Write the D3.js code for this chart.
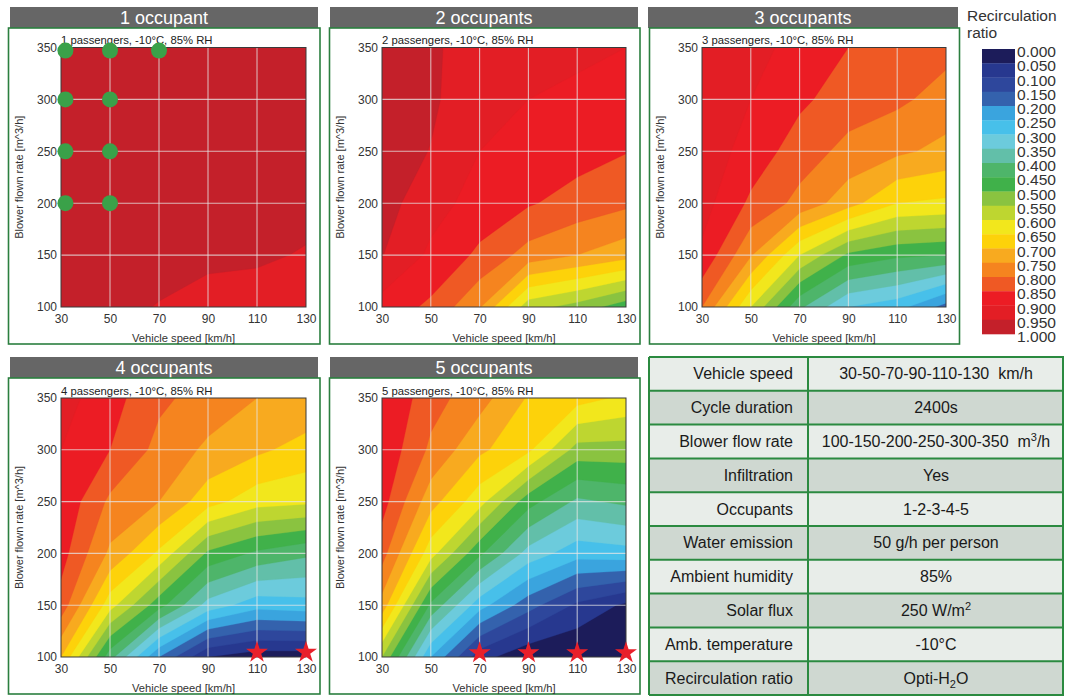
<!DOCTYPE html>
<html><head><meta charset="utf-8">
<script src="https://cdn.jsdelivr.net/npm/d3@7"></script>
<style>
body{margin:0;background:#fff;}
text{font-family:"Liberation Sans",Arial,sans-serif;}
</style>
</head><body>
<svg id="c" width="1065" height="696"></svg>
<script>
// ---------------- DATA ----------------
const speeds = [30, 50, 70, 90, 110, 130];          // km/h (columns)
const flows  = [100, 150, 200, 250, 300, 350];      // m3/h (rows, bottom -> top)
const thresholds = d3.range(20).map(i => i * 0.05);
const legendLabels = ["0.000","0.050","0.100","0.150","0.200","0.250","0.300","0.350","0.400","0.450",
  "0.500","0.550","0.600","0.650","0.700","0.750","0.800","0.850","0.900","0.950","1.000"];
const bandColors = ["#1c1c5a","#27388f","#2e479c","#3462ad","#3aa4de","#47c0ea","#6ccbdc","#62bfa9",
  "#4eb56a","#40b14a","#8ac340","#bed630","#f2e71c","#fdd20a","#f8aa1f","#f5841f","#ef5924","#ec1c24",
  "#e31e25","#c4202a"];

// recirculation ratio, rows = flows (100..350), columns = speeds (30..130)
const occ1 = [
  1.00, 0.98, 0.945, 0.915, 0.92, 0.91,
  1.00, 1.00, 0.99, 0.97, 0.96, 0.945,
  1.00, 1.00, 1.00, 0.99, 0.98, 0.97,
  1.00, 1.00, 1.00, 1.00, 0.99, 0.99,
  1.00, 1.00, 1.00, 1.00, 1.00, 0.99,
  1.00, 1.00, 1.00, 1.00, 1.00, 1.00];
const occ2 = [
  0.88, 0.84, 0.755, 0.57, 0.53, 0.47,
  0.952, 0.89, 0.84, 0.78, 0.75, 0.72,
  0.97, 0.92, 0.88, 0.855, 0.83, 0.81,
  0.98, 0.948, 0.90, 0.88, 0.87, 0.852,
  0.99, 0.96, 0.91, 0.90, 0.89, 0.88,
  0.99, 0.96, 0.92, 0.91, 0.91, 0.90];
const occ3 = [
  0.80, 0.60, 0.41, 0.30, 0.27, 0.18,
  0.89, 0.755, 0.60, 0.49, 0.46, 0.45,
  0.92, 0.84, 0.785, 0.72, 0.65, 0.64,
  0.93, 0.88, 0.825, 0.785, 0.76, 0.735,
  0.94, 0.90, 0.86, 0.825, 0.81, 0.78,
  0.945, 0.92, 0.88, 0.85, 0.84, 0.815];
const occ4 = [
  0.70, 0.42, 0.20, 0.05, 0.02, 0.02,
  0.83, 0.62, 0.47, 0.33, 0.27, 0.28,
  0.87, 0.74, 0.64, 0.49, 0.44, 0.41,
  0.89, 0.79, 0.75, 0.67, 0.62, 0.61,
  0.90, 0.85, 0.785, 0.74, 0.71, 0.68,
  0.92, 0.87, 0.81, 0.78, 0.75, 0.74];
const occ5 = [
  0.55, 0.25, 0.07, 0.01, 0.00, 0.00,
  0.73, 0.44, 0.27, 0.17, 0.09, 0.04,
  0.82, 0.62, 0.46, 0.33, 0.27, 0.28,
  0.87, 0.72, 0.62, 0.47, 0.39, 0.41,
  0.89, 0.79, 0.71, 0.66, 0.53, 0.53,
  0.90, 0.82, 0.77, 0.695, 0.67, 0.64];

const dots1  = [[31.8,347],[50,347],[70,347],[31.8,300],[50,300],[31.8,250],[50,250],[31.8,200],[50,200]];
const stars4 = [[110,104.5],[130,104.5]];
const stars5 = [[70,104],[90,104],[110,104],[130,104]];

const titles = ["1 occupant","2 occupants","3 occupants","4 occupants","5 occupants"];
const subtitles = ["1 passengers, -10°C, 85% RH","2 passengers, -10°C, 85% RH","3 passengers, -10°C, 85% RH",
  "4 passengers, -10°C, 85% RH","5 passengers, -10°C, 85% RH"];

const tableLabels = ["Vehicle speed","Cycle duration","Blower flow rate","Infiltration","Occupants",
  "Water emission","Ambient humidity","Solar flux","Amb. temperature","Recirculation ratio"];
const tableValues = ["30-50-70-90-110-130  km/h","2400s","100-150-200-250-300-350  m³/h","Yes","1-2-3-4-5",
  "50 g/h per person","85%","250 W/m²","-10°C","Opti-H₂O"];

// ---------------- LAYOUT ----------------
const svg = d3.select("#c");
const layout = [
  {hx:10, hw:308, hy:7,   fx:8.5,   fw:311.5, fy:28,  fh:316, l:61,  r:306, t:47.5,  b:307},
  {hx:330,hw:308, hy:7,   fx:329.5, fw:310.5, fy:28,  fh:316, l:382, r:626, t:47.5,  b:307},
  {hx:648,hw:310, hy:7,   fx:649.5, fw:310,   fy:28,  fh:316, l:702, r:946, t:47.5,  b:307},
  {hx:10, hw:308, hy:357, fx:8.5,   fw:311.5, fy:378, fh:316, l:61,  r:306, t:398,   b:657},
  {hx:330,hw:308, hy:357, fx:329.5, fw:310.5, fy:378, fh:316, l:382, r:626, t:398,   b:657}
];
const datasets = [occ1, occ2, occ3, occ4, occ5];
const markers = [{dots:dots1},{},{},{stars:stars4},{stars:stars5}];

const defs = svg.append("defs");

layout.forEach((L, pi) => {
  const g = svg.append("g");
  // header
  g.append("rect").attr("x",L.hx).attr("y",L.hy).attr("width",L.hw).attr("height",21).attr("fill","#666666");
  g.append("text").attr("x",L.hx+L.hw/2).attr("y",L.hy+17).attr("text-anchor","middle")
    .attr("fill","#fff").attr("font-size",18).text(titles[pi]);
  // frame
  g.append("rect").attr("x",L.fx).attr("y",L.fy).attr("width",L.fw).attr("height",L.fh)
    .attr("fill","none").attr("stroke","#2b7f3f").attr("stroke-width",1.6);

  const xs = d3.scaleLinear().domain([30,130]).range([L.l, L.r]);
  const ys = d3.scaleLinear().domain([100,350]).range([L.b, L.t]);

  const cid = "clip"+pi;
  defs.append("clipPath").attr("id",cid).append("rect")
    .attr("x",L.l).attr("y",L.t).attr("width",L.r-L.l).attr("height",L.b-L.t);

  const dx = speeds[1]-speeds[0], dy = flows[1]-flows[0];
  const proj = d3.geoTransform({point(x,y){
    this.stream.point(xs(speeds[0]+(x-0.5)*dx), ys(flows[0]+(y-0.5)*dy));
  }});
  const path = d3.geoPath(proj);
  const cs = d3.contours().size([speeds.length, flows.length]).thresholds(thresholds)(datasets[pi]);
  g.append("g").attr("clip-path",`url(#${cid})`)
    .selectAll("path").data(cs).join("path")
    .attr("d", path).attr("fill",(d,i)=>bandColors[i]).attr("stroke",(d,i)=>bandColors[i]).attr("stroke-width",0.3);

  // grid
  const grid = g.append("g").attr("stroke","#e6e6e6").attr("stroke-opacity",0.75).attr("stroke-width",1.1);
  speeds.slice(1,-1).forEach(s => grid.append("line").attr("x1",xs(s)).attr("x2",xs(s)).attr("y1",L.t).attr("y2",L.b));
  flows.slice(1,-1).forEach(f => grid.append("line").attr("x1",L.l).attr("x2",L.r).attr("y1",ys(f)).attr("y2",ys(f)));
  // border
  g.append("rect").attr("x",L.l).attr("y",L.t).attr("width",L.r-L.l).attr("height",L.b-L.t)
    .attr("fill","none").attr("stroke","#3a3a3a").attr("stroke-width",1);

  // axes
  const xa = g.append("g").attr("transform",`translate(0,${L.b+15.5})`)
    .call(d3.axisBottom(xs).tickValues(speeds).tickSize(0).tickPadding(0));
  xa.select(".domain").remove();
  xa.selectAll("text").attr("font-size",12).attr("fill","#333").attr("dy",0).attr("font-family",null);
  const ya = g.append("g").attr("transform",`translate(${L.l-4},0)`)
    .call(d3.axisLeft(ys).tickValues(flows).tickSize(0).tickPadding(0));
  ya.select(".domain").remove();
  ya.selectAll("text").attr("font-size",12).attr("fill","#333").attr("font-family",null);

  g.append("text").attr("x",(L.l+L.r)/2).attr("y",L.b+35).attr("text-anchor","middle")
    .attr("font-size",11.2).attr("fill","#333").text("Vehicle speed [km/h]");
  g.append("text").attr("transform",`translate(${L.fx+14},${(L.t+L.b)/2}) rotate(-90)`).attr("text-anchor","middle")
    .attr("font-size",11).attr("fill","#333").text("Blower flown rate [m^3/h]");
  g.append("text").attr("x",L.l).attr("y",L.t-3.5).attr("font-size",11.3).attr("fill","#222").text(subtitles[pi]);

  const m = markers[pi];
  if (m.dots) g.append("g").selectAll("circle").data(m.dots).join("circle")
    .attr("cx",d=>xs(d[0])).attr("cy",d=>ys(d[1])).attr("r",8).attr("fill","#3aa149");
  if (m.stars) g.append("g").selectAll("path").data(m.stars).join("path")
    .attr("d", d3.symbol(d3.symbolStar, 150)())
    .attr("transform",d=>`translate(${xs(d[0])},${ys(d[1])})`).attr("fill","#e8202a");
});

// ---------------- LEGEND ----------------
const lg = svg.append("g");
lg.append("text").attr("x",967).attr("y",21).attr("font-size",15.5).attr("fill","#333").text("Recirculation");
lg.append("text").attr("x",967).attr("y",38).attr("font-size",15.5).attr("fill","#333").text("ratio");
const ls = d3.scaleLinear().domain([0,1]).range([49,334]);
lg.selectAll("rect").data(bandColors).join("rect")
  .attr("x",982).attr("width",33).attr("y",(d,i)=>ls(thresholds[i])).attr("height",(d,i)=>ls(thresholds[i]+0.05)-ls(thresholds[i])+0.3)
  .attr("fill",d=>d);
lg.selectAll("text.lab").data(legendLabels).join("text").attr("class","lab")
  .attr("x",1017).attr("y",(d,i)=>ls(i*0.05)+8).attr("font-size",14).attr("fill","#333")
  .attr("textLength",39).attr("lengthAdjust","spacingAndGlyphs").text(d=>d);

// ---------------- TABLE ----------------
const tg = svg.append("g");
const tx0 = 649, tx1 = 808, tx2 = 1064, ty0 = 357, rowH = 33.8;
tableLabels.forEach((lab, i) => {
  const y = ty0 + i*rowH;
  tg.append("rect").attr("x",tx0).attr("y",y).attr("width",tx2-tx0).attr("height",rowH)
    .attr("fill", i%2===0 ? "#e8ede9" : "#cfd8d1");
  tg.append("text").attr("x",tx1-15).attr("y",y+rowH/2+5.5).attr("text-anchor","end")
    .attr("font-size",16).attr("fill","#1a1a1a").text(lab);
  const t = tg.append("text").attr("x",(tx1+tx2)/2).attr("y",y+rowH/2+5.5).attr("text-anchor","middle")
    .attr("font-size",16).attr("fill","#1a1a1a").attr("xml:space","preserve");
  const v = tableValues[i];
  if (v.indexOf("₂")>=0) {
    const parts = v.split("₂");
    t.append("tspan").text(parts[0]);
    t.append("tspan").attr("font-size",11).attr("dy",4).text("2");
    t.append("tspan").attr("dy",-4).text(parts[1]);
  } else if (v.indexOf("³")>=0 || v.indexOf("²")>=0) {
    const ch = v.indexOf("³")>=0 ? "³" : "²";
    const parts = v.split(ch);
    t.append("tspan").text(parts[0]);
    t.append("tspan").attr("font-size",11).attr("dy",-6).text(ch==="³"?"3":"2");
    t.append("tspan").attr("dy",6).text(parts[1]);
  } else t.text(v);
});
const tb = tg.append("g").attr("stroke","#2b8a40").attr("stroke-width",2).attr("fill","none");
d3.range(tableLabels.length+1).forEach(i => tb.append("line").attr("x1",tx0).attr("x2",tx2)
  .attr("y1",ty0+i*rowH).attr("y2",ty0+i*rowH));
[tx0, tx1, tx2-1].forEach(x => tb.append("line").attr("x1",x).attr("x2",x).attr("y1",ty0).attr("y2",ty0+tableLabels.length*rowH));
</script>
</body></html>
